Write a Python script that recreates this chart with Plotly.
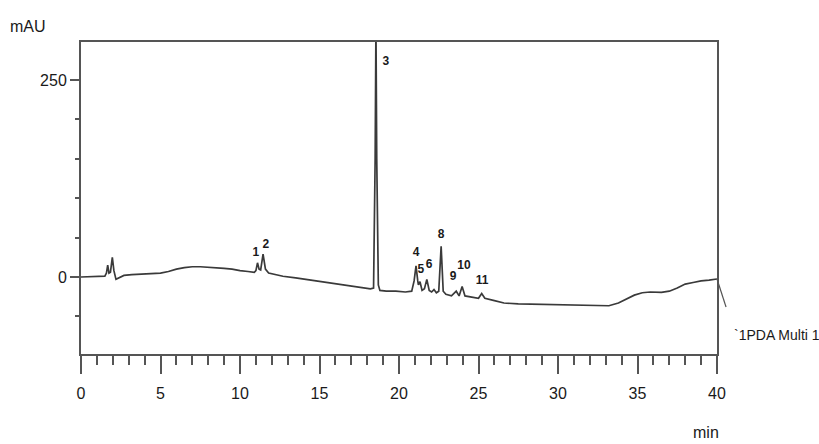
import plotly.graph_objects as go

# Chromatogram trace (time in min, signal in mAU)
time_min = [0.0, 0.8, 1.5, 1.6, 1.68, 1.76, 1.85, 1.97, 2.07, 2.2, 2.4, 2.7, 3.2, 4.0, 5.0,
            5.5, 6.0, 6.5, 7.0, 7.5, 8.0, 8.5, 9.0, 9.5, 10.0, 10.5, 10.9, 11.0, 11.1, 11.2,
            11.3, 11.45, 11.6, 11.8, 12.2, 12.7, 13.5, 14.5, 15.5, 16.5, 17.5, 18.2, 18.4,
            18.5, 18.55, 18.6, 18.7, 18.8, 19.2, 19.8, 20.4, 20.8, 20.95, 21.07, 21.18, 21.22,
            21.32, 21.45, 21.6, 21.75, 21.9, 22.05, 22.2, 22.35, 22.5, 22.65, 22.78, 22.95,
            23.3, 23.6, 23.78, 23.97, 24.15, 24.6, 25.0, 25.2, 25.4, 26.0, 26.6, 27.5, 28.5,
            29.5, 30.5, 31.5, 32.5, 33.2, 33.8, 34.3, 34.8, 35.3, 35.8, 36.5, 37.0, 37.5,
            38.0, 38.5, 39.0, 39.5, 40.0]
signal_mau = [0, 0.5, 1, 5, 15, 5, 6, 25, 8, -3, -1, 2, 3, 4, 5,
              7, 10, 12, 13, 13, 12.5, 12, 11, 10, 8, 7, 6, 8, 18, 10,
              9, 29, 10, 5, 3, 1, -1, -4, -7, -10, -13, -15, -14,
              150, 320, 150, -10, -17, -18, -18, -19, -18, -5, 14, -5, -10,
              -6, -17, -15, -3, -17, -19, -16, -20, -18, 39, -18, -22,
              -24, -18, -24, -12, -24, -26, -27, -21, -27, -30, -33, -34, -34.5,
              -35, -36, -36.5, -37, -36.5, -33, -28, -23, -20, -19, -19.5, -18, -14,
              -9, -7, -5, -4, -2.5]

# Peak labels
peak_labels = ["1", "2", "3", "4", "5", "6", "8", "9", "10", "11"]
label_x = [11.0, 11.63, 19.18, 21.07, 21.38, 21.89, 22.64, 23.4, 24.09, 25.22]
label_y = [30.5, 40.6, 272.8, 30.5, 8.9, 15.2, 53.3, 0.0, 14.0, -5.0]

x_ticks = [0, 5, 10, 15, 20, 25, 30, 35, 40]
y_ticks = [0, 250]

axis_color = "#555555"
tick_font = dict(family="Liberation Sans, Arial, sans-serif", size=16, color="#1a1a1a")
label_font = dict(family="Liberation Sans, Arial, sans-serif", size=14, color="#1a1a1a")

fig = go.Figure()
fig.add_trace(go.Scatter(x=time_min, y=signal_mau, mode="lines",
                         line=dict(color="#3a3a3a", width=1.7), hoverinfo="x+y",
                         showlegend=False))
fig.add_trace(go.Scatter(x=label_x, y=label_y, mode="text", text=peak_labels,
                         textfont=dict(family="Liberation Sans, Arial, sans-serif", size=12,
                                       color="#1a1a1a", weight="bold"),
                         textposition="middle center", showlegend=False, hoverinfo="skip",
                         cliponaxis=False))

fig.update_layout(
    width=819, height=444,
    margin=dict(l=81, r=102, t=42, b=90),
    paper_bgcolor="white", plot_bgcolor="white",
    xaxis=dict(range=[0, 40], tickmode="array", tickvals=x_ticks,
               ticktext=[str(v) for v in x_ticks],
               showgrid=False, zeroline=False, showline=True, linecolor=axis_color,
               linewidth=2, mirror=True, ticks="outside", ticklen=18, tickwidth=1.5,
               tickcolor=axis_color, tickfont=tick_font, ticklabelstandoff=6,
               minor=dict(dtick=1, tick0=0, ticks="outside", ticklen=9, tickwidth=1.5,
                          tickcolor=axis_color, showgrid=False)),
    yaxis=dict(range=[-97.7, 298.2], tickmode="array", tickvals=y_ticks,
               ticktext=[str(v) for v in y_ticks],
               showgrid=False, zeroline=False, showline=True, linecolor=axis_color,
               linewidth=2, mirror=True, ticks="outside", ticklen=9, tickwidth=1.5,
               tickcolor=axis_color, tickfont=tick_font,
               minor=dict(dtick=50, tick0=0, ticks="outside", ticklen=4, tickwidth=1.5,
                          tickcolor=axis_color, showgrid=False)),
    annotations=[
        dict(text="mAU", xref="paper", yref="paper", x=-0.0833, y=1.051,
             xanchor="center", yanchor="middle", showarrow=False, font=tick_font),
        dict(text="min", xref="paper", yref="paper", x=0.983, y=-0.25,
             xanchor="center", yanchor="middle", showarrow=False, font=tick_font),
        dict(text="`1PDA Multi 1", xref="paper", yref="paper", x=1.0236, y=0.0609,
             xanchor="left", yanchor="middle", showarrow=False, font=label_font),
    ],
    shapes=[dict(type="line", xref="paper", yref="y", x0=1.0, y0=signal_mau[-1],
                 x1=1.0142, y1=-38, line=dict(color="#555555", width=1.2))],
)

fig.write_html("out.html", config={"displayModeBar": False},
               post_script="document.body.style.margin='0';")
